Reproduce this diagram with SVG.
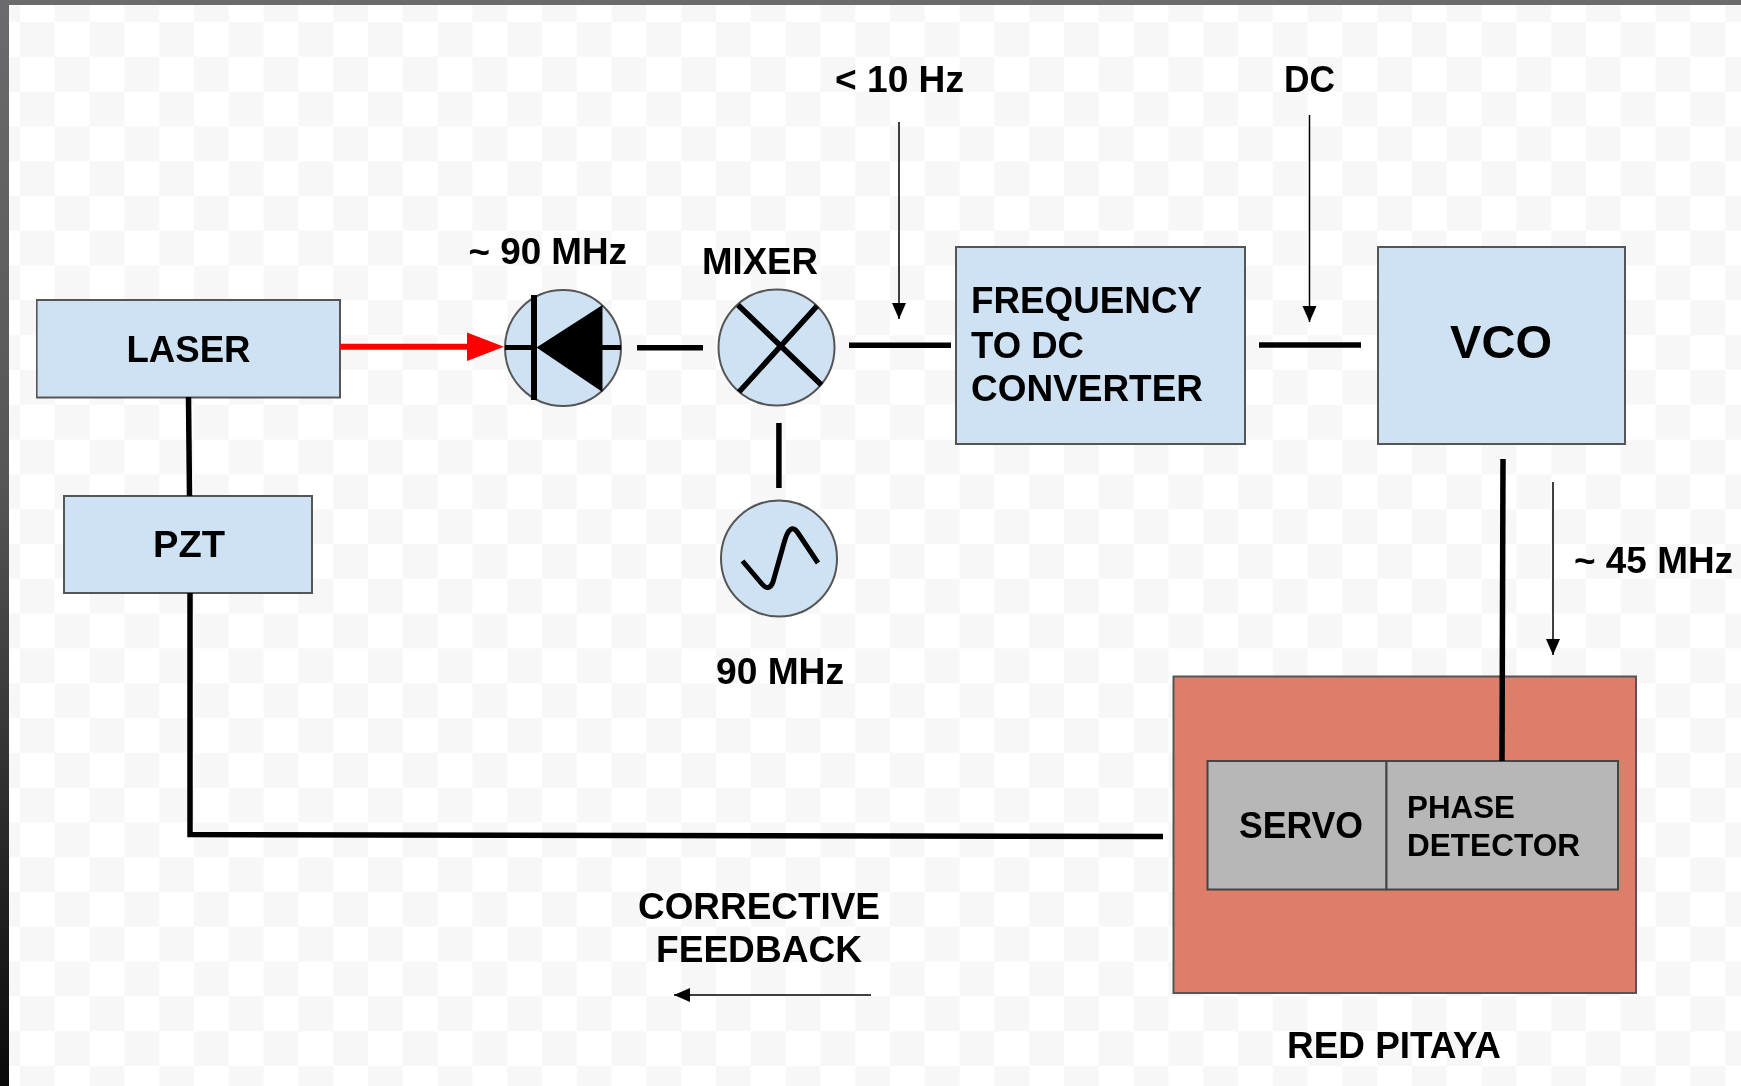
<svg xmlns="http://www.w3.org/2000/svg" width="1741" height="1086" viewBox="0 0 1741 1086">
<defs>
<pattern id="chk" width="69.6" height="69.6" patternUnits="userSpaceOnUse" x="20" y="22">
<rect width="69.6" height="69.6" fill="#ffffff"/>
<rect width="34.8" height="34.8" fill="#f7f7f7"/>
<rect x="34.8" y="34.8" width="34.8" height="34.8" fill="#f7f7f7"/>
</pattern>
<linearGradient id="edge" x1="0" y1="0" x2="0" y2="1">
<stop offset="0" stop-color="#6b6b6d"/><stop offset="0.45" stop-color="#555"/><stop offset="1" stop-color="#0a0a0a"/>
</linearGradient>
<marker id="thin" markerUnits="userSpaceOnUse" markerWidth="18" markerHeight="18" refX="16" refY="8" orient="auto"><path d="M0 1 L16 8 L0 15 Z" fill="#000"/></marker>
<filter id="soft" x="0" y="0" width="100%" height="100%"><feGaussianBlur stdDeviation="0.6"/></filter>
<style>
.blue{fill:#cfe2f3;stroke:#555;stroke-width:2}
.sys{fill:#dd7e6b;stroke:#555;stroke-width:2}
.grey{fill:#b7b7b7;stroke:#444;stroke-width:2}
.w{fill:none;stroke:#000;stroke-width:5.5}
.t{fill:none;stroke:#000;stroke-width:1.5}
text{font-family:"Liberation Sans",Arial,sans-serif;font-weight:700;font-size:36px;fill:#000}
.sm{font-size:32px}
</style>
</defs>
<rect width="1741" height="1086" fill="url(#chk)"/>
<rect width="1741" height="5" fill="#6b6b6d"/>
<rect width="9" height="1086" fill="url(#edge)"/>
<g filter="url(#soft)">
<g id="laser"><rect class="blue" x="36.6" y="300" width="303.4" height="97.5"/><text x="126.5" y="362" textLength="124" lengthAdjust="spacingAndGlyphs">LASER</text></g>
<g id="pzt"><rect class="blue" x="64" y="496" width="248" height="97"/><text x="153" y="557" textLength="72" lengthAdjust="spacingAndGlyphs">PZT</text></g>
<g id="photodiode"><circle class="blue" cx="563" cy="348" r="58"/>
<path d="M505 347.5 H535 M602 347.5 H621" stroke="#000" stroke-width="5" fill="none"/>
<path d="M534 295 V400" stroke="#000" stroke-width="6" fill="none"/>
<path d="M536.5 347.5 L602.5 305 V392 Z" fill="#000"/>
<text x="468.5" y="264" textLength="158.5" lengthAdjust="spacingAndGlyphs">~ 90 MHz</text></g>
<g id="mixer"><circle class="blue" cx="776.5" cy="347.5" r="58"/>
<path d="M738 305 L821.5 385 M817 306 L739 392" stroke="#000" stroke-width="5.5" fill="none"/>
<text x="702" y="274" textLength="116" lengthAdjust="spacingAndGlyphs">MIXER</text></g>
<g id="oscillator"><circle class="blue" cx="779" cy="558.5" r="58"/>
<path d="M742.5 561 L762 584 Q769 592 773 582 L784 543 Q790 521 798 533 L818 563" stroke="#000" stroke-width="5" fill="none"/>
<text x="716" y="684" textLength="128" lengthAdjust="spacingAndGlyphs">90 MHz</text></g>
<g id="converter"><rect class="blue" x="956" y="247" width="289" height="197"/>
<text x="971" y="313" textLength="231" lengthAdjust="spacingAndGlyphs">FREQUENCY</text><text x="971" y="358" textLength="113" lengthAdjust="spacingAndGlyphs">TO DC</text><text x="971" y="401" textLength="232" lengthAdjust="spacingAndGlyphs">CONVERTER</text></g>
<g id="vco"><rect class="blue" x="1378" y="247" width="247" height="197"/><text x="1450" y="358" style="font-size:47px" textLength="102" lengthAdjust="spacingAndGlyphs">VCO</text></g>
<g id="red-pitaya"><rect class="sys" x="1173.5" y="676.5" width="462.5" height="316.5"/>
<text x="1287" y="1058" textLength="214" lengthAdjust="spacingAndGlyphs">RED PITAYA</text></g>
<g id="servo"><rect class="grey" x="1207.5" y="761" width="179" height="128.5"/><text x="1239" y="838" textLength="124" lengthAdjust="spacingAndGlyphs">SERVO</text></g>
<g id="phase-detector"><rect class="grey" x="1386.5" y="761" width="231.5" height="128.5"/>
<text class="sm" x="1407" y="818" textLength="108" lengthAdjust="spacingAndGlyphs">PHASE</text><text class="sm" x="1407" y="856" textLength="173" lengthAdjust="spacingAndGlyphs">DETECTOR</text></g>
<g id="connectors">
<path class="w" d="M188.5 397 L189.5 496"/>
<path class="w" d="M190 593 L190 834.5 L1163 836.5"/>
<path d="M340 346.7 L470 346.7" fill="none" stroke="#f00" stroke-width="6"/>
<path d="M467 332.5 L504 346.7 L467 361 Z" fill="#f00"/>
<path class="w" d="M637 347.7 L703 347.7"/>
<path class="w" d="M849 345.3 L951 345.3"/>
<path class="w" d="M1259 345 L1361 345"/>
<path class="w" d="M778.9 423 L778.9 488"/>
<path class="w" d="M1503 459 L1502 761"/>
<path class="t" d="M899 122 L899 319" marker-end="url(#thin)"/>
<path class="t" d="M1309.500 115 L1309.500 322" marker-end="url(#thin)"/>
<path class="t" d="M1553 482 L1553 655" marker-end="url(#thin)"/>
<path class="t" d="M871 995 L674 995" marker-end="url(#thin)"/>
</g>
<g id="labels">
<text x="835" y="92" textLength="129" lengthAdjust="spacingAndGlyphs">&lt; 10 Hz</text>
<text x="1284" y="92" textLength="51" lengthAdjust="spacingAndGlyphs">DC</text>
<text x="1574" y="573" textLength="159" lengthAdjust="spacingAndGlyphs">~ 45 MHz</text>
<text x="638" y="919" textLength="242" lengthAdjust="spacingAndGlyphs">CORRECTIVE</text>
<text x="656" y="962" textLength="206" lengthAdjust="spacingAndGlyphs">FEEDBACK</text>
</g>
</g>
</svg>
